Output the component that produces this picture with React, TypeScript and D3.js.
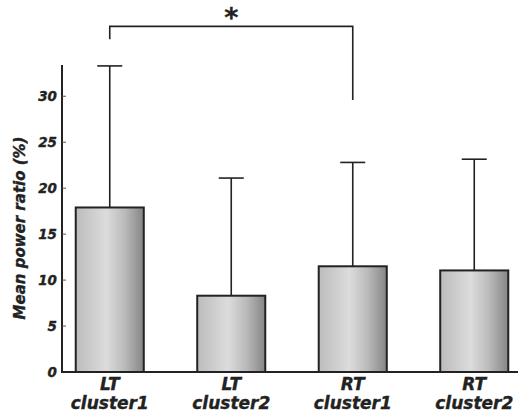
import * as d3 from 'd3';
import React from 'react';

// values
const categories = ['LT cluster1', 'LT cluster2', 'RT cluster1', 'RT cluster2'];
const means = [17.9, 8.3, 11.5, 11.05];
const upperErr = [33.3, 21.1, 22.8, 23.15];
const yTicks = [0, 5, 10, 15, 20, 25, 30];
const axisTop = 33.4;
// significance bracket: from bar, to bar, top level, left leg end, right leg end
const sigFrom = 0;
const sigTo = 2;
const sigLevels = [37.6, 36.2, 29.6];
const sigLabel = '*';

const W = 518;
const H = 416;
const FONT = '"DejaVu Sans", sans-serif';
const INK = '#222';

export default function App() {
  const y = d3.scaleLinear().domain([0, axisTop]).range([372, 65]);
  const x = d3.scaleBand<string>()
    .domain(categories)
    .range([49, 535])
    .paddingInner(0.44)
    .paddingOuter(0.22);
  const bw = x.bandwidth();
  const cx = (c: string) => (x(c) as number) + bw / 2;
  const axisX = 62;

  const left = cx(categories[sigFrom]);
  const right = cx(categories[sigTo]);
  const bracket = d3.line<[number, number]>()([
    [left, y(sigLevels[1])],
    [left, y(sigLevels[0])],
    [right, y(sigLevels[0])],
    [right, y(sigLevels[2])],
  ]) as string;

  // heavier look for the labels
  const heavy = { stroke: INK, strokeWidth: 0.35 };

  return (
    <svg width={W} height={H} style={{ position: 'absolute', left: 0, top: 0, background: '#fff' }}>
      <defs>
        <linearGradient id="barFill" x1="0" x2="1" y1="0" y2="0">
          <stop offset="0%" stopColor="#bcbcbc" />
          <stop offset="45%" stopColor="#dcdcdc" />
          <stop offset="72%" stopColor="#bababa" />
          <stop offset="100%" stopColor="#858585" />
        </linearGradient>
      </defs>

      {/* error bars */}
      {categories.map((c, i) => (
        <g key={'e' + c} stroke={INK} strokeWidth={1.6}>
          <line x1={cx(c)} x2={cx(c)} y1={y(means[i])} y2={y(upperErr[i])} />
          <line x1={cx(c) - 12.5} x2={cx(c) + 12.5} y1={y(upperErr[i])} y2={y(upperErr[i])} />
        </g>
      ))}

      {/* bars */}
      {categories.map((c, i) => (
        <rect
          key={'b' + c}
          x={x(c)}
          y={y(means[i])}
          width={bw}
          height={y(0) - y(means[i])}
          fill="url(#barFill)"
          stroke={INK}
          strokeWidth={2}
        />
      ))}

      {/* y axis */}
      <line x1={axisX} x2={axisX} y1={y(axisTop)} y2={y(0) + 1} stroke={INK} strokeWidth={2} />
      {yTicks.map((t) => (
        <g key={'t' + t}>
          {t > 0 && <line x1={axisX} x2={axisX + 4} y1={y(t)} y2={y(t)} stroke="#555" strokeWidth={1} />}
          <text
            x={axisX - 5}
            y={y(t)}
            dy="0.36em"
            textAnchor="end"
            fontFamily={FONT}
            fontWeight="bold"
            fontStyle="italic"
            fontSize={13.5}
            fill={INK}
            {...heavy}
          >
            {t}
          </text>
        </g>
      ))}
      <text
        transform={`translate(20,${228}) rotate(-90)`}
        textAnchor="middle"
        dy="0.36em"
        fontFamily={FONT}
        fontWeight="bold"
        fontStyle="italic"
        fontSize={15}
        fill={INK}
        {...heavy}
      >
        Mean power ratio (%)
      </text>

      {/* x axis */}
      <line x1={axisX - 1} x2={W} y1={y(0)} y2={y(0)} stroke={INK} strokeWidth={2.2} />
      {categories.map((c) => {
        const [a, b] = c.split(' ');
        return (
          <text
            key={'l' + c}
            x={cx(c)}
            textAnchor="middle"
            fontFamily={FONT}
            fontWeight="bold"
            fontStyle="italic"
            fontSize={17}
            fill={INK}
            {...heavy}
          >
            <tspan x={cx(c)} y={390}>{a}</tspan>
            <tspan x={cx(c)} y={409}>{b}</tspan>
          </text>
        );
      })}

      {/* significance bracket */}
      <path d={bracket} fill="none" stroke={INK} strokeWidth={1.6} />
      <text
        x={(left + right) / 2}
        y={y(sigLevels[0]) + 1}
        textAnchor="middle"
        fontFamily={FONT}
        fontWeight="bold"
        fontSize={27}
        fill={INK}
        {...heavy}
      >
        {sigLabel}
      </text>
    </svg>
  );
}
